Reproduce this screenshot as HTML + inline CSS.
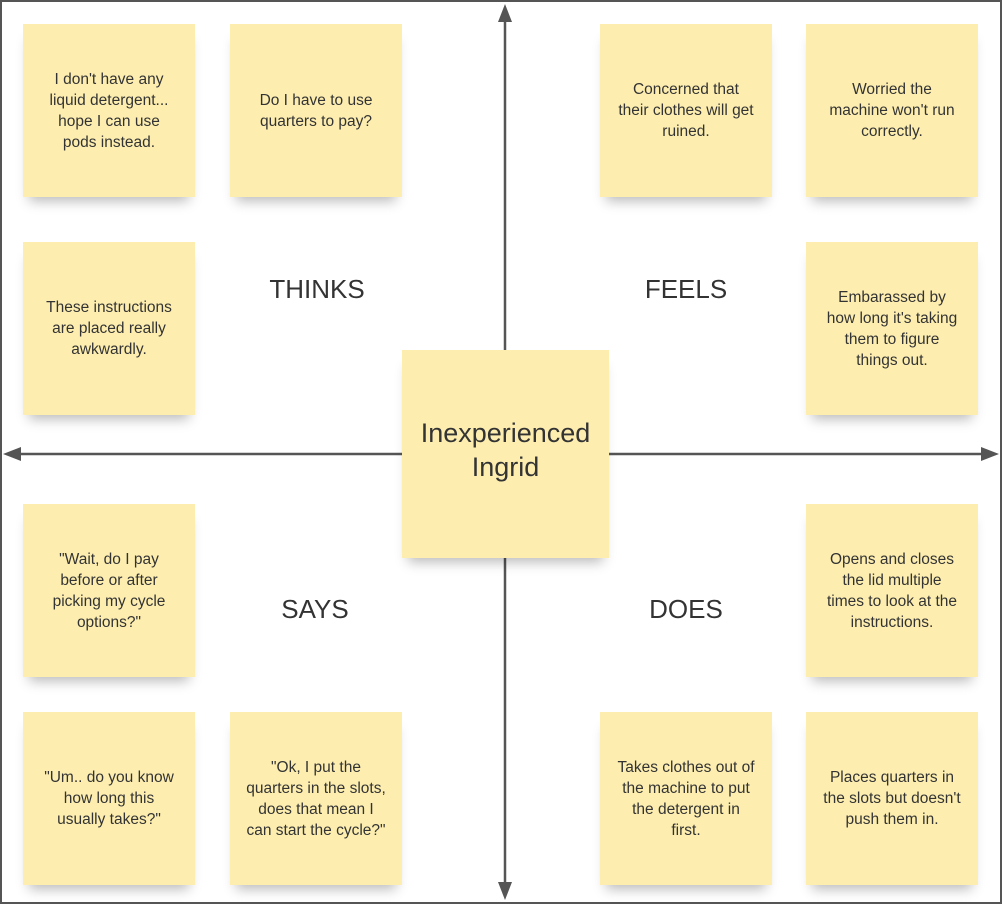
<!DOCTYPE html>
<html><head><style>
body{margin:0;width:1002px;height:904px;background:#fff;position:relative;overflow:hidden;font-family:"Liberation Sans",Arial,sans-serif;}
.frame{position:absolute;left:0;top:0;width:998px;height:900px;border:2px solid #555;}
.n{position:absolute;width:172px;height:173px;background:#fdeeb0;box-shadow:0 10px 12px -6px rgba(0,0,0,0.28);display:flex;align-items:center;justify-content:center;text-align:center;font-size:15.5px;line-height:21px;color:#333;box-sizing:border-box;padding:0 4px;white-space:nowrap;}
.lbl{position:absolute;font-size:26px;color:#333;width:200px;text-align:center;}
</style></head><body>
<div class="frame"></div>
<svg width="1002" height="904" style="position:absolute;left:0;top:0">
<g stroke="#555" stroke-width="2.5" fill="#555">
<line x1="505" y1="14" x2="505" y2="890"/>
<line x1="12" y1="454" x2="990" y2="454"/>
<polygon points="505,4 498,22 512,22" stroke="none"/>
<polygon points="505,900 498,882 512,882" stroke="none"/>
<polygon points="3,454 21,447 21,461" stroke="none"/>
<polygon points="999,454 981,447 981,461" stroke="none"/>
</g></svg>
<div class="n" style="left:23px;top:24px">I don't have any<br>liquid detergent...<br>hope I can use<br>pods instead.</div>
<div class="n" style="left:230px;top:24px">Do I have to use<br>quarters to pay?</div>
<div class="n" style="left:600px;top:24px">Concerned that<br>their clothes will get<br>ruined.</div>
<div class="n" style="left:806px;top:24px">Worried the<br>machine won't run<br>correctly.</div>
<div class="n" style="left:23px;top:242px">These instructions<br>are placed really<br>awkwardly.</div>
<div class="n" style="left:806px;top:242px">Embarassed by<br>how long it's taking<br>them to figure<br>things out.</div>
<div class="n" style="left:23px;top:504px">"Wait, do I pay<br>before or after<br>picking my cycle<br>options?"</div>
<div class="n" style="left:806px;top:504px">Opens and closes<br>the lid multiple<br>times to look at the<br>instructions.</div>
<div class="n" style="left:23px;top:712px">"Um.. do you know<br>how long this<br>usually takes?"</div>
<div class="n" style="left:230px;top:712px">"Ok, I put the<br>quarters in the slots,<br>does that mean I<br>can start the cycle?"</div>
<div class="n" style="left:600px;top:712px">Takes clothes out of<br>the machine to put<br>the detergent in<br>first.</div>
<div class="n" style="left:806px;top:712px">Places quarters in<br>the slots but doesn't<br>push them in.</div>
<div class="n" style="left:402px;top:350px;width:207px;height:208px;font-size:27px;line-height:34px;padding:0 0 8px 0">Inexperienced<br>Ingrid</div>
<div class="lbl" style="left:217px;top:274px">THINKS</div>
<div class="lbl" style="left:586px;top:274px">FEELS</div>
<div class="lbl" style="left:215px;top:594px">SAYS</div>
<div class="lbl" style="left:586px;top:594px">DOES</div>
</body></html>
